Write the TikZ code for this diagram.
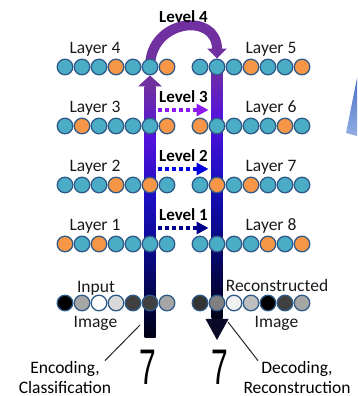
\documentclass[tikz,border=0pt]{standalone}
\usepackage{fontspec}
\setmainfont{Carlito}
\newfontfamily\digitfont{Liberation Sans}
\usetikzlibrary{positioning,calc,arrows.meta,backgrounds}
\definecolor{tq}{HTML}{4BACC6}
\definecolor{og}{HTML}{F79646}
\definecolor{CellEdge}{HTML}{2F5A88}
\definecolor{ArcPurple}{HTML}{7030A0}
\definecolor{BarBlack}{HTML}{000014}
\definecolor{BarNavy}{HTML}{0A0A8C}
\definecolor{BarBlue}{HTML}{1A0FC0}
\definecolor{BarViolet}{HTML}{5512DC}
\definecolor{HeadDark}{HTML}{0A0A28}
\definecolor{LvlViolet}{HTML}{8A1AF0}
\definecolor{LvlBlue}{HTML}{0000E0}
\definecolor{LvlNavy}{HTML}{00008C}
\definecolor{SliverDark}{HTML}{4A6FC6}
\definecolor{SliverLight}{HTML}{92AEE2}
\pgfdeclareverticalshading{barshade}{100bp}{color(0bp)=(BarBlack); color(25bp)=(BarBlack);
  color(42.5bp)=(BarNavy); color(52.5bp)=(BarBlue); color(65bp)=(BarViolet);
  color(75bp)=(ArcPurple); color(100bp)=(ArcPurple)}

\begin{document}
\begin{tikzpicture}[x=1pt,y=1pt,
    cell/.style={circle,draw=CellEdge,line width=1.3pt,minimum size=15.6pt,
      inner sep=0pt,fill=#1},
    lbl/.style={inner sep=0pt,text=black!90,font=\fontsize{17.5}{20}\selectfont},
    lvltxt/.style={inner sep=0pt,font=\fontsize{17}{20}\selectfont\bfseries},
    lvl/.style={line width=4.5pt,dash pattern=on 4pt off 3pt,draw=#1,
      -{Triangle[length=12pt,width=12pt]}},
    note/.style={inner sep=0pt,align=center,font=\fontsize{17.5}{20}\selectfont},
    pointer/.style={draw=black!85,line width=1pt},
    digit/.style={inner sep=0pt,font=\digitfont\fontsize{50}{50}\selectfont}
  ]
  \useasboundingbox (0,0) rectangle (357,396);

  % encoder side
  \foreach \c [count=\i] in {tq,tq,tq,og,tq,tq,og}
    \node[cell=\c] (L4c\i) at ({48+17*\i},329) {};
  \foreach \c [count=\i] in {tq,og,tq,tq,tq,tq,og}
    \node[cell=\c] (L3c\i) at ({48+17*\i},270) {};
  \foreach \c [count=\i] in {tq,tq,tq,og,tq,og,tq}
    \node[cell=\c] (L2c\i) at ({48+17*\i},211) {};
  \foreach \c [count=\i] in {og,tq,og,tq,tq,tq,tq}
    \node[cell=\c] (L1c\i) at ({48+17*\i},152) {};
  \foreach \c [count=\i] in {black,black!35,white,black!15,black!75,black!75,black!35}
    \node[cell=\c] (In\i) at ({48+17*\i},93) {};

  % decoder side
  \foreach \c [count=\i] in {tq,tq,tq,og,tq,tq,og}
    \node[cell=\c] (R5c\i) at ({183+17*\i},329) {};
  \foreach \c [count=\i] in {og,tq,tq,tq,tq,og,tq}
    \node[cell=\c] (R6c\i) at ({183+17*\i},270) {};
  \foreach \c [count=\i] in {tq,og,tq,og,tq,tq,tq}
    \node[cell=\c] (R7c\i) at ({183+17*\i},211) {};
  \foreach \c [count=\i] in {tq,tq,tq,tq,og,tq,og}
    \node[cell=\c] (R8c\i) at ({183+17*\i},152) {};
  \foreach \c [count=\i] in {black!80,black!50,black!5,black!25,black,black!75,black!35}
    \node[cell=\c] (Rec\i) at ({183+17*\i},93) {};

  % layer labels
  \node[lbl,above=2pt of L4c2,xshift=13pt] (t4) {Layer 4};
  \node[lbl,above=2pt of L3c2,xshift=13pt] (t3) {Layer 3};
  \node[lbl,above=2pt of L2c2,xshift=13pt] (t2) {Layer 2};
  \node[lbl,above=2pt of L1c2,xshift=13pt] (t1) {Layer 1};
  \node[lbl,above=2pt of R5c5,xshift=3pt] (t5) {Layer 5};
  \node[lbl,above=2pt of R6c5,xshift=3pt] (t6) {Layer 6};
  \node[lbl,above=2pt of R7c5,xshift=3pt] (t7) {Layer 7};
  \node[lbl,above=2pt of R8c5,xshift=3pt] (t8) {Layer 8};
  \node[lbl,above=-1pt of In2,xshift=14pt] (inTop) {Input};
  \node[lbl,below=5pt of In2,xshift=13.5pt] (inBot) {Image};
  \node[lbl,above=2.3pt of Rec5,xshift=9pt] (recTop) {Reconstructed};
  \node[lbl,below=5pt of Rec5,xshift=8.5pt] (recBot) {Image};

  % bars and the top arc
  \coordinate (encEnd) at ([yshift=-35pt]In6.center);
  \coordinate (encTip) at (L4c6.south);
  \coordinate (decEnd) at ([yshift=-37pt]Rec2.center);
  \begin{scope}[on background layer]
    \draw[line width=10pt,ArcPurple,-{Triangle[width=19pt,length=10pt]}]
      (L4c6.center) .. controls +(0,48) and +(0,47) .. (R5c2.north);
    \shade[shading=barshade] ([xshift=-5.5pt]encEnd) rectangle ([xshift=5.5pt,yshift=-11pt]encTip);
    \fill[ArcPurple] ([xshift=-12pt,yshift=-11pt]encTip) -- (encTip)
      -- ([xshift=12pt,yshift=-11pt]encTip) -- cycle;
    \shade[shading=barshade] ([xshift=-5.5pt]R5c2.center) rectangle ([xshift=5.5pt,yshift=21pt]decEnd);
    \fill[HeadDark] ([xshift=-11.5pt,yshift=21pt]decEnd) -- (decEnd)
      -- ([xshift=11.5pt,yshift=21pt]decEnd) -- cycle;
  \end{scope}
  \node[lvltxt] (lv4) at ($(L4c6)!.5!(R5c2)+(0,50)$) {Level 4};

  % skip connections
  \draw[lvl=LvlViolet] ([yshift=16pt]L3c6.east) -- node[lvltxt,above=5pt] (lv3) {Level 3} ([yshift=16pt]R6c2.west);
  \draw[lvl=LvlBlue] ([yshift=16pt]L2c6.east) -- node[lvltxt,above=5pt] (lv2) {Level 2} ([yshift=16pt]R7c2.west);
  \draw[lvl=LvlNavy] ([yshift=16pt]L1c6.east) -- node[lvltxt,above=5pt] (lv1) {Level 1} ([yshift=16pt]R8c2.west);

  % digits and notes
  \node[digit,anchor=base] (sevenL) at ([xshift=-2.5pt,yshift=-47pt]encEnd) {\scalebox{0.6}[1]{7}};
  \node[digit,anchor=base] (sevenR) at ([xshift=3pt,yshift=-45pt]decEnd) {\scalebox{0.6}[1]{7}};
  \node[note] (enc) at (65,19) {Encoding,\\Classification};
  \node[note] (dec) at (297,19) {Decoding,\\Reconstruction};
  \coordinate (encPt) at ([shift={(-10pt,-22pt)}]In6.center);
  \coordinate (decPt) at ([shift={(11pt,-19pt)}]Rec2.center);
  \draw[pointer] ([xshift=40pt]enc.north) -- (encPt);
  \draw[pointer] ([xshift=-39pt]dec.north) -- (decPt);

  \shade[top color=SliverDark,bottom color=SliverLight] (346,263) -- (357,318) -- (357,260) -- cycle;
\end{tikzpicture}
\end{document}
